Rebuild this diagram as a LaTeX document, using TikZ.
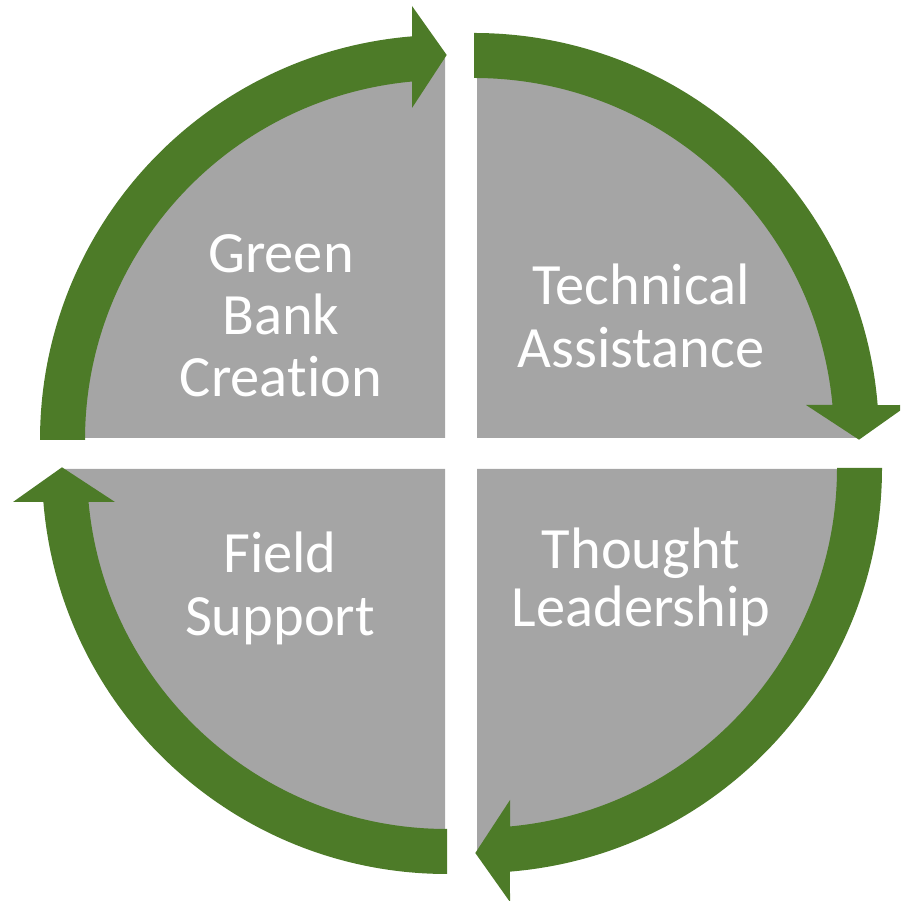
\documentclass[tikz,border=0pt]{standalone}
\usepackage{fontspec}
\setmainfont{Carlito}[Ligatures=NoCommon]
\definecolor{arcgreen}{RGB}{77,123,40}
\definecolor{quadgray}{RGB}{165,165,165}
\tikzset{
  quad/.style={fill=quadgray, draw=none},
  cyc/.style={fill=arcgreen, draw=none},
  lbl/.style={text=white, align=center, anchor=base, inner sep=0pt},
  cyclearrow/.pic={
    \fill[cyc] (-405,0) arc[start angle=180, end angle=94.67, radius=405]
      -- (-33,434) -- (1.7,385) -- (-33,332)
      -- (95.26:360) arc[start angle=95.26, end angle=180, radius=360] -- cycle;
  }
}
\begin{document}
\begin{tikzpicture}[x=1pt,y=1pt]
\useasboundingbox (0,0) rectangle (900,901);
\clip (0,0) rectangle (900,901);
% gray quadrants
\fill[quad] (445,463) -- ++(-382,0) arc[start angle=180, end angle=90, radius=382] -- cycle;
\fill[quad] (477,463) -- ++(0,382) arc[start angle=90, end angle=0, radius=382] -- cycle;
\fill[quad] (477,432) -- ++(382,0) arc[start angle=0, end angle=-90, radius=382] -- cycle;
\fill[quad] (445,432) -- ++(0,-382) arc[start angle=-90, end angle=-180, radius=382] -- cycle;
% arc arrows
\pic (atl) at (445,461) {cyclearrow};
\pic[rotate=-90] (atr) at (474,463) {cyclearrow};
\pic[rotate=180] (abr) at (477,433) {cyclearrow};
\pic[rotate=90] (abl) at (447,432) {cyclearrow};
% labels (anchor=base is the baseline of the last line)
\node[lbl, font=\fontsize{58.5}{62}\selectfont] (tl) at (281,504) {Green\\Bank\\Creation};
\node[lbl, font=\fontsize{58.5}{63}\selectfont] (tr) at (641,533) {Technical\\Assistance};
\node[lbl, font=\fontsize{58.5}{58}\selectfont] (br) at (641,274) {Thought\\Leadership};
\node[lbl, font=\fontsize{58.5}{63}\selectfont] (bl) at (280,265) {Field\\Support};
\end{tikzpicture}
\end{document}
